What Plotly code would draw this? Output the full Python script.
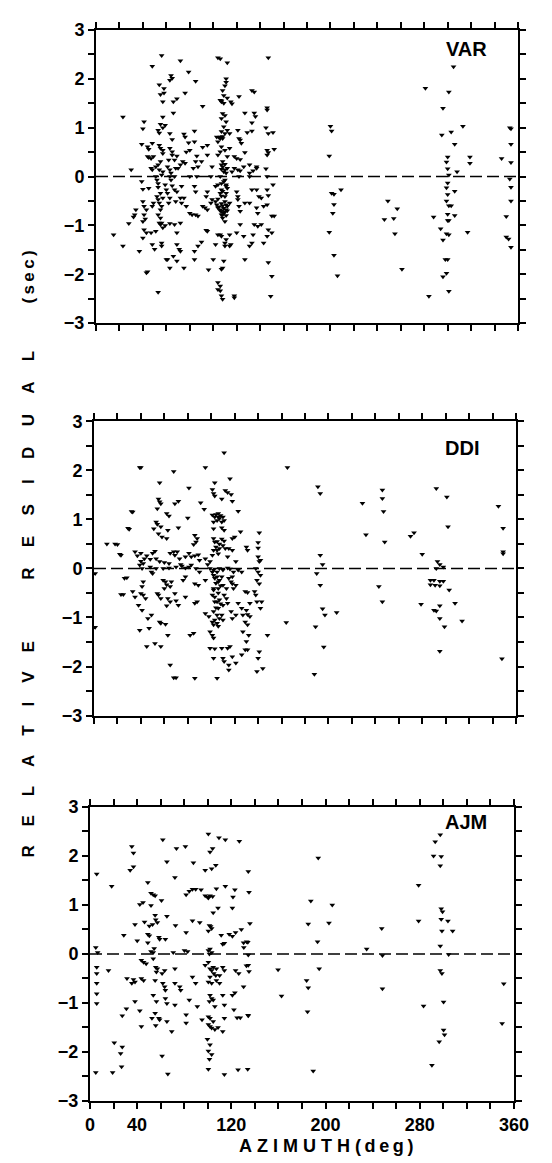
import plotly.graph_objects as go

# ---------------- data (azimuth deg, relative residual sec) ----------------
var_pts = [
(56,2.48),(48,2.26),(72,2.37),(79,2.14),(85,1.95),(104,2.43),(106,2.41),(112,2.33),(147,2.43),
(64,2.07),(65,2.01),(54,1.88),(58,1.80),(55,1.68),(58,1.71),(57,1.53),(63,1.97),(69,1.59),(66,1.53),(76,1.71),
(111,2.0),(111,1.93),(110,1.86),(108,1.76),(109,1.66),(106,1.56),(107,1.53),(112,1.61),(115,1.53),(116,1.49),
(122,1.64),(133,1.76),(135,1.73),(146,1.41),(146,1.36),(23,1.22),(41,1.12),(40,0.98),(57,1.22),(55,1.07),
(59,1.05),(57,1.0),(66,1.30),(53,0.95),(54,0.89),(63,0.88),(65,0.76),(75,0.87),(76,0.81),(84,0.93),
(79,0.69),(84,0.71),(91,1.44),(108,1.29),(110,1.25),(107,1.19),(111,1.12),(112,0.95),(109,1.02),(107,0.92),
(106,0.81),(108,0.78),(110,0.88),(114,0.88),(121,0.95),(122,0.78),(123,0.75),(124,0.68),(127,1.30),(135,1.30),
(136,1.23),(133,1.10),(129,0.90),(133,0.93),(145,1.0),(147,0.88),(151,0.9),
(39,0.66),(44,0.61),(45,0.56),(48,0.68),(54,0.64),(55,0.58),(57,0.54),(57,0.47),(63,0.58),(65,0.51),
(65,0.44),(62,0.34),(69,0.42),(74,0.31),(77,0.50),(80,0.54),(86,0.42),(91,0.60),(95,0.64),(103,0.81),
(104,0.71),(107,0.61),(106,0.51),(104,0.44),(110,0.54),(112,0.41),(114,0.58),(118,0.41),(120,0.37),(123,0.35),
(127,0.49),(131,0.24),(137,0.20),(146,0.54),(147,0.49),(146,0.44),(152,0.56),(145,0.16),
(44,0.41),(45,0.39),(47,0.37),(49,0.41),(47,0.17),(48,0.14),(51,0.20),(53,0.24),(54,0.14),(55,0.31),
(57,0.10),(56,0.03),(61,0.20),(63,0.14),(64,0.07),(67,0.34),(68,0.17),(70,0.17),(72,0.24),(76,0.27),
(83,0.17),(85,0.31),(87,0.20),(90,0.31),(95,0.44),(99,0.20),(107,0.24),(108,0.31),(110,0.14),(111,0.07),
(112,0.17),(116,0.10),(118,0.17),(121,0.14),(123,0.12),(126,0.20),(131,0.07),(134,0.12),(137,0.17),
(30,0.14),(51,0.0),(52,-0.07),(53,-0.14),(63,0.0),(64,-0.07),(67,0.0),(80,0.0),(86,0.0),(98,0.0),
(106,0.0),(110,-0.07),(107,-0.14),(111,-0.17),(122,0.0),(131,0.0),(146,0.0),(39,-0.10),(45,-0.24),(40,-0.26),
(53,-0.22),(55,-0.34),(52,-0.41),(59,-0.17),(60,-0.27),(61,-0.34),(65,-0.19),(67,-0.27),(69,-0.31),(73,-0.20),
(84,-0.20),(85,-0.31),(104,-0.17),(107,-0.27),(106,-0.34),(110,-0.41),(111,-0.34),(112,-0.24),(102,-0.20),(95,-0.31),
(94,-0.41),(120,-0.31),(121,-0.41),(133,-0.27),(137,-0.27),(139,-0.41),(146,-0.27),(147,-0.39),(151,-0.17),
(40,-0.51),(41,-0.61),(43,-0.68),(41,-0.78),(34,-0.68),(33,-0.78),(40,-0.92),(42,-0.87),(32,-0.83),(28,-0.96),
(41,-1.09),(43,-1.15),(53,-0.47),(54,-0.54),(56,-0.61),(55,-0.68),(53,-0.78),(55,-0.85),(56,-0.95),(54,-0.95),
(49,-0.54),(48,-0.61),(57,-0.44),(63,-0.44),(62,-0.54),(68,-0.51),(72,-0.44),(75,-0.44),(73,-0.54),(77,-0.61),
(80,-0.75),(82,-0.78),(85,-0.78),(87,-0.81),(91,-0.61),(93,-0.64),(95,-0.68),(98,-0.54),(99,-0.47),(103,-0.58),
(104,-0.64),(106,-0.68),(107,-0.71),(109,-0.75),(111,-0.68),(112,-0.61),(114,-0.54),(102,-0.51),(104,-0.46),(110,-0.51),
(107,-0.78),(108,-0.85),(110,-0.92),(111,-0.80),(121,-0.47),(122,-0.61),(123,-0.71),(127,-0.54),(131,-0.54),(137,-0.64),
(138,-0.75),(141,-0.44),(143,-0.61),(146,-0.58),(150,-0.81),
(107,-0.55),(108,-0.60),(109,-0.65),(106,-0.70),(110,-0.72),(108,-0.78),(112,-0.70),(105,-0.62),(111,-0.58),(109,0.10),
(108,0.20),(110,0.25),(107,0.15),(109,-0.10),(111,-0.20),(108,-0.30),(107,-0.40),(105,0.80),(106,0.78),(108,0.82),
(107,1.55),(109,1.50),
(15,-1.19),(23,-1.42),(37,-1.53),(40,-1.26),(47,-1.15),(51,-1.12),(48,-1.39),(50,-1.49),(55,-0.98),(57,-1.05),
(59,-1.0),(63,-0.96),(67,-0.98),(72,-0.95),(69,-1.15),(56,-1.36),(56,-1.42),(60,-1.70),(61,-1.70),(63,-1.87),
(66,-1.63),(69,-1.39),(71,-1.49),(72,-1.53),(69,-1.73),(75,-1.87),(84,-1.53),(84,-1.70),(87,-1.42),(90,-1.34),
(94,-1.10),(95,-1.12),(96,-1.91),(100,-1.70),(102,-1.39),(104,-1.19),(106,-1.19),(107,-1.22),(110,-1.36),(111,-1.29),
(114,-1.19),(120,-1.15),(123,-0.98),(126,-1.22),(127,-1.70),(131,-1.42),(133,-1.36),(134,-1.19),(135,-0.98),(138,-1.02),
(141,-0.98),(143,-1.36),(146,-1.22),(147,-1.09),(150,-1.15),(152,-0.81),(147,-1.76),(150,-2.04),(149,-2.45),(43,-1.97),
(44,-1.95),(53,-2.37),(104,-2.17),(106,-2.24),(106,-2.34),(107,-2.44),(108,-2.51),(104,-2.31),(118,-2.44),(118,-2.48),
(107,-1.90),(108,-1.87),(109,-1.73),(110,-1.42),(114,-1.42),(115,-1.39),
(200,1.03),(201,0.93),(199,0.42),(201,-0.34),(203,-0.36),(203,-0.57),(202,-0.75),(199,-1.14),(203,-1.61),(206,-2.03),
(209,-0.27),(249,-0.50),(246,-0.88),(254,-0.86),(257,-0.66),(255,-1.17),(261,-1.90),
(281,1.81),(284,-2.45),(288,-0.83),(296,1.40),(295,0.85),(294,-1.07),(296,-1.30),(296,-2.05),(298,-1.70),(300,-1.70),
(299,-1.98),(301,-2.35),(301,1.73),(305,2.25),(303,0.91),(306,0.66),(300,0.40),(299,0.30),(300,0.16),(301,0.03),
(308,0.10),(300,-0.13),(299,-0.23),(306,-0.30),(300,-0.37),(299,-0.50),(301,-0.60),(303,-0.60),(300,-0.77),(306,-0.80),
(300,-0.90),(301,-0.90),(299,-1.17),(301,-1.19),(313,1.03),(319,0.40),(319,0.27),(317,-1.14),
(346,0.37),(353,1.00),(354,0.98),(354,0.66),(354,0.29),(353,-0.05),(354,-0.22),(354,-0.50),(350,-0.82),(350,-1.24),
(352,-1.28),(354,-1.45),
]

ddi_pts = [
(111,2.36),(40,2.06),(68,1.98),(95,2.06),(56,1.75),(81,1.64),(103,1.75),(101,1.61),(102,1.53),(103,1.48),
(116,1.83),(112,1.59),(114,1.55),(117,1.51),(118,1.37),(109,1.42),(33,1.15),(55,1.42),(56,1.36),(54,1.22),
(57,1.32),(62,1.12),(64,1.07),(69,1.32),(72,1.37),(91,1.34),(94,1.21),(101,1.09),(103,1.05),(106,1.12),
(107,1.02),(110,1.05),(111,0.98),(109,0.95),(105,0.98),(102,0.95),(123,1.17),(30,0.80),(53,0.95),(54,0.90),
(51,0.81),(57,0.85),(55,0.71),(58,0.64),(63,0.78),(62,0.61),(72,0.83),(80,1.03),(102,0.81),(109,0.83),
(111,0.78),(125,0.75),(141,0.73),(86,0.68),(88,0.61),(87,0.54),(85,0.49),(118,0.61),(120,0.64),(102,0.61),
(103,0.54),(104,0.44),(102,0.37),(101,0.27),(105,0.37),(109,0.60),(111,0.56),(110,0.47),(112,0.41),(107,0.41),
(115,0.41),(118,0.37),(130,0.44),(131,0.37),(140,0.53),(140,0.42),(140,0.24),(142,0.17),(141,0.14),(20,0.49),
(23,0.27),(35,0.34),(37,0.26),(40,0.31),(43,0.20),(45,0.26),(48,0.19),(40,0.15),(42,0.10),(50,0.31),
(52,0.35),(53,0.20),(56,0.14),(60,0.12),(64,0.10),(65,0.31),(68,0.34),(69,0.27),(71,0.34),(73,0.20),
(78,0.24),(74,0.08),(81,0.31),(83,0.24),(86,0.26),(89,0.28),(90,0.17),(95,0.20),(97,0.08),(99,0.14),
(83,0.07),(75,0.05),(114,0.24),(121,0.14),
(104,1.10),(106,1.05),(108,1.08),(105,0.55),(107,0.50),(106,0.30),
(28,-0.19),(41,0.0),(39,0.07),(48,0.03),(49,-0.07),(50,-0.10),(53,0.0),(59,0.0),(64,0.01),(70,0.03),
(78,0.01),(81,0.03),(87,0.0),(90,-0.07),(95,-0.24),(99,0.0),(102,-0.03),(105,-0.07),(107,0.0),(110,-0.03),
(114,0.01),(116,-0.01),(119,-0.07),(123,-0.03),(126,-0.07),(138,0.0),(140,-0.07),(142,-0.14),(139,-0.24),(141,-0.31),
(59,-0.24),(61,-0.27),(62,-0.33),(65,-0.37),(66,-0.27),(60,-0.41),(55,-0.54),(54,-0.51),(57,-0.61),(63,-0.61),
(65,-0.68),(62,-0.76),(70,-0.66),(72,-0.75),(69,-0.51),(76,-0.24),(78,-0.17),(86,-0.31),(89,-0.34),(88,-0.68),
(78,-0.58),(42,-0.27),(41,-0.37),(40,-0.51),(42,-0.54),(44,-0.61),(33,-0.47),(35,-0.58),(25,-0.53),(38,-0.75),
(41,-0.85),(46,-1.02),(49,-0.95),(39,-1.26),(47,-1.22),(45,-1.59),(52,-1.53),(56,-1.09),(57,-1.12),(61,-1.14),
(63,-1.36),(57,-1.59),(65,-1.97),(68,-2.23),(70,-2.23),(86,-2.24),(105,-2.24),(82,-1.36),(85,-1.32),(86,-0.71),
(101,-0.07),(102,-0.14),(103,-0.20),(105,-0.17),(106,-0.27),(107,-0.24),(109,-0.17),(110,-0.34),(106,-0.41),(102,-0.44),
(101,-0.54),(103,-0.58),(105,-0.68),(107,-0.64),(110,-0.75),(106,-0.81),(102,-0.88),(105,-0.95),(107,-1.02),(110,-1.05),
(109,-0.95),(103,-1.05),(101,-1.09),(102,-1.15),(105,-1.12),(98,-0.98),(95,-0.92),(99,-1.29),(101,-1.36),(102,-1.42),
(99,-1.63),(103,-1.64),(102,-1.83),(109,-1.63),(110,-1.83),(114,-1.63),(116,-1.59),(111,-1.90),(115,-1.97),(115,-2.07),
(121,-1.93),(118,-1.80),(103,-0.68),(102,-0.41),(113,-0.41),(111,-0.54),(113,-0.61),(117,-0.27),(118,-0.31),(121,-0.34),
(119,-0.41),(115,-0.20),(118,-0.17),(114,-0.71),(117,-0.88),(118,-1.02),(121,-0.95),(123,-0.71),(126,-0.81),(127,-0.95),
(129,-0.47),(131,-0.49),(130,-0.85),(131,-0.94),(133,-0.98),(129,-1.09),(131,-1.15),(133,-0.71),(137,-0.47),(138,-0.54),
(139,-0.68),(142,-0.81),(143,-0.68),(130,-1.49),(129,-1.66),(131,-1.66),(132,-1.36),(127,-1.29),(141,-1.70),(140,-1.83),
(139,-2.10),(144,-2.04),(148,-1.36),(126,-1.76),
(104,-0.30),(106,-0.50),(108,-0.35),(104,-0.80),(108,-0.72),(106,-1.18),
(1,-1.20),(1,-0.10),(11,0.50),(18,0.50),(22,0.29),(32,1.16),(29,0.82),(39,2.06),(26,-0.20),(23,-0.53),
(165,2.06),(164,-1.10),
(191,1.67),(193,1.53),(193,0.27),(195,0.08),(190,-0.10),(193,-0.34),(195,-0.82),(197,-0.95),(207,-0.90),(189,-1.19),
(196,-1.60),(188,-2.16),
(229,1.33),(232,0.69),(246,1.60),(246,1.43),(247,1.16),(248,0.54),(243,-0.37),(246,-0.68),
(270,0.66),(273,0.73),(280,0.29),(279,-0.73),
(292,1.63),(301,1.46),(302,0.85),(293,0.14),(295,0.08),(298,0.03),(292,0.0),(287,-0.24),(290,-0.24),(295,-0.26),
(298,-0.26),(287,-0.33),(291,-0.34),(295,-0.35),(303,-0.44),(308,-0.71),(290,-0.85),(292,-0.87),(295,-0.76),(295,-1.02),
(299,-1.19),(295,-1.69),(314,-1.07),
(345,1.27),(349,0.82),(349,0.34),(349,0.30),(348,-1.84),
]

ajm_pts = [
(100.5,2.45),(109.5,2.37),(114.9,2.33),(126.8,2.30),(35.5,2.19),(36.9,2.06),(61.8,2.33),(73.4,2.15),(81,2.19),(65.3,1.88),
(87.8,1.86),(101.9,2.08),(104.1,2.15),(97.8,1.71),(103.3,1.74),(106.8,1.81),(134.4,1.68),(34.1,1.71),(36.9,1.78),(5.7,1.63),
(18.4,1.38),(49.1,1.46),(72.1,1.56),(51.8,1.24),(53.7,1.21),(55.3,1.19),(42.3,1.01),(45,1.05),(51.8,0.99),(60.7,1.09),
(81.6,1.21),(84.3,1.28),(87,1.32),(89.7,1.32),(94.3,1.31),(97.8,1.19),(99.7,1.16),(101.9,1.19),(104.1,1.17),(100.5,1.14),
(107.3,1.33),(114.9,1.38),(123,1.31),(121.4,1.16),(135,1.26),(104.6,0.84),(108.7,0.94),(120.9,0.94),(55.3,0.79),(55.8,0.70),
(65.3,0.77),(38.2,0.60),(46.3,0.65),(50.4,0.57),(53.1,0.60),(57.2,0.64),(72.6,0.58),(87,0.68),(93.2,0.64),(101.4,0.58),
(102.4,0.56),(100.5,0.47),(103.3,0.52),(28.7,0.38),(40.1,0.27),(49.1,0.40),(50.4,0.37),(58.5,0.34),(59.1,0.30),(64,0.30),
(81.6,0.44),(111.4,0.38),(112.7,0.20),(114.1,0.22),(118.2,0.40),(120.9,0.36),(123.6,0.44),(128.5,0.50),(130.4,0.23),(133,0.25),
(135.8,0.62),(49.1,0.23),(54.5,0.11),(51.8,0.05),(53.7,0.03),(70.7,0.03),(80.2,0.07),(82.9,0.05),(100.5,0.07),(101.9,0.10),
(101.4,0.0),(103.3,0.03),(134.4,-0.02),(4.9,0.13),(6.5,0.03),
(43.6,-0.13),(45.5,-0.17),(47.7,-0.20),(53.7,-0.10),(55.8,-0.27),(57.2,-0.30),(56.4,-0.37),(63.4,-0.34),(61.2,-0.40),(72.1,-0.30),
(5.7,-0.27),(15.7,-0.34),(5.7,-0.40),(5.7,-0.60),(5.7,-0.81),(5.7,-1.01),(31.4,-0.50),(35.5,-0.60),(36.9,-0.52),(43.6,-0.50),
(45.5,-0.54),(38.2,-0.57),(55.3,-0.54),(61.8,-0.60),(63.4,-0.67),(64,-0.74),(72.1,-0.60),(76.2,-0.67),(77,-0.74),(87,-0.47),
(89.7,-0.60),(97.8,-0.23),(100.5,-0.17),(101.9,-0.30),(103.3,-0.34),(104.6,-0.27),(107.3,-0.30),(105.1,-0.40),(106.8,-0.44),(101.9,-0.47),
(100.5,-0.57),(103.3,-0.60),(107.3,-0.54),(110,-0.60),(110,-0.44),(112.7,-0.27),(114.1,-0.34),(123.6,-0.34),(126.3,-0.40),(134.4,-0.23),
(135,-0.36),(130.4,-0.67),(120.9,-0.84),(123,-0.79),(101.9,-0.84),(103.3,-0.91),(104.6,-0.94),(101.4,-0.97),(112.7,-0.84),(114.1,-1.04),
(106,-1.07),(53.7,-0.84),(56.4,-0.97),(64,-0.91),(65.3,-1.01),(72.1,-1.04),(84.3,-0.94),(91.1,-1.07),(38.2,-0.97),(42.3,-1.16),
(30.9,-1.12),(27.4,-1.26),(55.3,-1.21),(52.6,-1.31),(58.5,-1.31),(59.1,-1.34),(55.8,-1.46),(65.3,-1.38),(43.6,-1.48),(69.4,-1.58),
(81.6,-1.24),(81.6,-1.41),(95.1,-1.34),(100.5,-1.28),(101.9,-1.31),(104.6,-1.38),(100.5,-1.44),(103.3,-1.51),(101.9,-1.48),(106,-1.54),
(108.7,-1.50),(112.7,-1.58),(114.1,-1.31),(122.2,-1.14),(127.6,-1.30),(134.4,-1.26),(124.9,-1.30),(20.6,-1.81),(27.4,-1.90),(26,-2.03),
(26.8,-2.30),(61.2,-2.08),(99.7,-1.74),(101.9,-1.85),(100.5,-1.98),(103.3,-2.05),(101.4,-2.15),(100.5,-2.35),(66.1,-2.45),(114.1,-2.46),
(133.9,-2.35),(4.9,-2.42),(19.2,-2.42),
(130.6,0.13),(132.8,-0.24),(134,0.24),(134.2,-1.25),(125.7,-2.36),
(159.7,-0.32),(162.6,-0.86),(183.9,-0.54),(185.3,-0.69),(184.7,-1.18),(185.3,0.61),(187.5,1.08),(189.5,-2.39),(193.2,0.25),(193.8,1.96),
(194.6,-0.30),(202.9,0.63),(205.7,1.00),(234.9,0.10),(247.7,0.52),(248.3,-0.03),(248.3,-0.71),
(279,1.40),(279,0.67),(283.2,-1.06),(290.3,-2.27),(291.7,2.00),(293.1,2.29),(297.4,2.43),(298.2,1.99),(297.4,1.80),(298.2,0.92),
(299.3,0.86),(298.2,0.71),(298.8,0.47),(297.4,0.16),(297.4,-0.34),(298.8,-0.40),(300.2,-0.98),(300.2,-1.55),(301,-1.65),(296.5,-1.79),
(303.9,0.67),(307.9,0.47),(304.5,-0.01),(351.3,-0.61),(349.9,-1.42),
]

panel_names = ["VAR", "DDI", "AJM"]
x_tick_vals = [0, 20, 40, 60, 80, 100, 120, 140, 160, 180, 200, 220, 240, 260, 280, 300, 320, 340, 360]
x_tick_labels = ["0", "", "40", "", "", "", "120", "", "", "", "200", "", "", "", "280", "", "", "", "360"]
y_tick_vals = [-3, -2.5, -2, -1.5, -1, -0.5, 0, 0.5, 1, 1.5, 2, 2.5, 3]
y_tick_labels = ["\u22123", "", "\u22122", "", "\u22121", "", "0", "", "1", "", "2", "", "3"]

var_az, var_res = [p[0] for p in var_pts], [p[1] for p in var_pts]
ddi_az, ddi_res = [p[0] for p in ddi_pts], [p[1] for p in ddi_pts]
ajm_az, ajm_res = [p[0] for p in ajm_pts], [p[1] for p in ajm_pts]

# ---------------- figure ----------------
W, H = 552, 1163
ML, MR, MT, MB = 80, 40, 15, 70
pw = W - ML - MR
ph = H - MT - MB

def xdom(left, right):
    return [(left - ML) / pw, (right - ML) / pw]

def ydom(top, bottom):
    return [(H - MB - bottom) / ph, (H - MB - top) / ph]

# pixel frames of the three panels (left, right, top, bottom)
frames = [(88, 510, 15, 310), (86, 508, 409, 705), (82, 506, 797, 1093)]
label_pos = [(0.879, 0.936), (0.872, 0.910), (0.887, 0.949)]

fig = go.Figure()
series = [(var_az, var_res), (ddi_az, ddi_res), (ajm_az, ajm_res)]
font_fam = "Liberation Sans, Arial, sans-serif"

for i, (az, res) in enumerate(series):
    sfx = "" if i == 0 else str(i + 1)
    fig.add_trace(go.Scatter(
        x=az, y=res, mode="markers",
        marker=dict(symbol="triangle-down", size=5, color="black", line=dict(width=0)),
        xaxis="x" + sfx, yaxis="y" + sfx, showlegend=False, hoverinfo="skip"))
    l, r, t, b = frames[i]
    bottom = (i == 2)
    fig.layout["xaxis" + sfx] = dict(
        domain=xdom(l, r), anchor="y" + sfx, range=[0, 360],
        tickmode="array", tickvals=x_tick_vals,
        ticktext=x_tick_labels if bottom else [""] * len(x_tick_vals),
        showticklabels=bottom,
        ticks="outside", ticklen=6, tickwidth=1.5, tickcolor="black",
        showline=True, linewidth=2, linecolor="black", mirror="ticks",
        showgrid=False, zeroline=False,
        tickfont=dict(family=font_fam, size=18, color="black", weight="bold"))
    fig.layout["yaxis" + sfx] = dict(
        domain=ydom(t, b), anchor="x" + sfx, range=[-3, 3],
        tickmode="array", tickvals=y_tick_vals, ticktext=y_tick_labels,
        ticks="outside", ticklen=6, tickwidth=1.5, tickcolor="black",
        showline=True, linewidth=2, linecolor="black", mirror="ticks",
        showgrid=False, zeroline=False,
        tickfont=dict(family=font_fam, size=18, color="black", weight="bold"))
    fig.add_shape(type="line", xref="x" + sfx, yref="y" + sfx, x0=0, x1=360, y0=0, y1=0,
                  line=dict(color="black", width=1.6, dash="12px,5px"))
    fig.add_annotation(xref="x" + sfx + " domain", yref="y" + sfx + " domain",
                       x=label_pos[i][0], y=label_pos[i][1], text=panel_names[i],
                       showarrow=False, xanchor="center", yanchor="middle",
                       font=dict(family=font_fam, size=20, color="black", weight="bold"))

nb = "\u00a0"
def spaced(word, gap):
    return gap.join(list(word))

ytitle = (spaced("RELATIVE", nb * 4) + nb * 13 + spaced("RESIDUAL", nb * 4 + "\u200a")
          + nb * 10 + "(\u2009s\u2009e\u2009c\u2009)")
fig.add_annotation(xref="paper", yref="paper", x=(21 - ML) / pw, y=(H - MB - 543) / ph,
                   text=ytitle, textangle=-90, showarrow=False,
                   xanchor="center", yanchor="middle",
                   font=dict(family=font_fam, size=17, color="black", weight="bold"))

xtitle = spaced("AZIMUTH", nb) + nb + "(" + "\u2009d\u2009e\u2009g\u2009" + ")"
fig.add_annotation(xref="paper", yref="paper", x=(318 - ML) / pw, y=(H - MB - 1138) / ph,
                   text=xtitle, showarrow=False, xanchor="center", yanchor="middle",
                   font=dict(family=font_fam, size=18, color="black", weight="bold"))

fig.update_layout(width=W, height=H, margin=dict(l=ML, r=MR, t=MT, b=MB),
                  paper_bgcolor="white", plot_bgcolor="white")

fig.write_html("out.html")
